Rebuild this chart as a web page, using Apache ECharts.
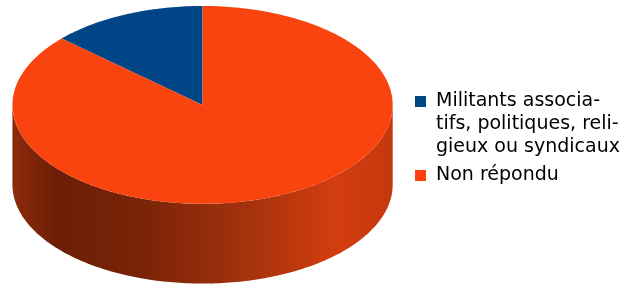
<!DOCTYPE html>
<html><head><meta charset="utf-8">
<script src="https://cdn.jsdelivr.net/npm/echarts@6/dist/echarts.min.js"></script>
<style>html,body{margin:0;padding:0;background:#fff}#c{width:638px;height:285px}</style>
</head><body><div id="c"></div>
<script>
const categories = ['Militants associatifs, politiques, religieux ou syndicaux', 'Non répondu'];
const legendLabels = ['Militants associa-\ntifs, politiques, reli-\ngieux ou syndicaux', 'Non répondu'];
const values = [13.3, 86.7];
const legendColors = ['#004586', '#ff420e'];
const topColors = ['#004586', '#f9440f'];

// layout of the 3D pie (fractions of the chart size)
const PIE = { cx: 0.3175, cy: 0.368, rx: 0.298, ry: 0.347, depth: 0.28 };

const total = values.reduce((a, b) => a + b, 0);
function sliceAngles(i) {
  let before = 0;
  for (let k = 0; k < i; k++) before += values[k];
  const a0 = 90 + 360 * before / total;
  const a1 = 90 + 360 * (before + values[i]) / total;
  return [a0, a1];
}
function pt(g, a, dy) {
  const r = a * Math.PI / 180;
  return [g.cx + g.rx * Math.cos(r), g.cy - g.ry * Math.sin(r) + (dy || 0)];
}
function arcPts(g, a0, a1, dy) {
  const pts = [];
  const n = Math.max(2, Math.ceil(Math.abs(a1 - a0) / 1));
  for (let k = 0; k <= n; k++) pts.push(pt(g, a0 + (a1 - a0) * k / n, dy));
  return pts;
}
function makeRender(i) {
  return function (params, api) {
    const W = api.getWidth(), H = api.getHeight();
    const g = { cx: PIE.cx * W, cy: PIE.cy * H, rx: PIE.rx * W, ry: PIE.ry * H, d: PIE.depth * H };
    const [a0, a1] = sliceAngles(i);
    const children = [];
    // front walls
    for (let k = 0; k < 2; k++) {
      const lo = Math.max(a0, 180 + 360 * k), hi = Math.min(a1, 360 + 360 * k);
      if (hi > lo) {
        const pts = arcPts(g, lo, hi, 0).concat(arcPts(g, hi, lo, g.d));
        children.push({
          type: 'polygon', z2: 1,
          shape: { points: pts },
          style: {
            fill: {
              type: 'linear', x: 0, y: 0, x2: 1, y2: 0,
              colorStops: i === 0 ? [
                { offset: 0, color: '#002a52' }, { offset: 1, color: '#003a72' }
              ] : [
                { offset: 0, color: '#8e2a0b' },
                { offset: 0.12, color: '#6c1e06' },
                { offset: 0.35, color: '#7a2407' },
                { offset: 0.6, color: '#a2310c' },
                { offset: 0.85, color: '#d23d0f' },
                { offset: 1, color: '#c5380d' }
              ]
            }
          }
        });
      }
    }
    // top face
    const top = [[g.cx, g.cy]].concat(arcPts(g, a0, a1, 0));
    children.push({
      type: 'polygon', z2: 10,
      shape: { points: top },
      style: { fill: topColors[i] }
    });
    return { type: 'group', children: children };
  };
}

const chart = echarts.init(document.getElementById('c'), null, { renderer: 'canvas' });
chart.setOption({
  animation: false,
  backgroundColor: '#fff',
  legend: {
    orient: 'vertical', left: 415, top: 44, padding: 0,
    itemWidth: 11, itemHeight: 11, itemGap: 5, icon: 'rect',
    textStyle: { fontFamily: 'DejaVu Sans', fontSize: 19, lineHeight: 23, color: '#000', padding: [0, 0, 0, 5] },
    data: categories,
    formatter: function (name) {
      const lbl = legendLabels[categories.indexOf(name)];
      const n = lbl.split('\n').length;
      // pad with empty lines above so the first line sits beside the marker
      return '\n'.repeat(n - 1) + lbl;
    },
    selectedMode: false
  },
  series: categories.map((name, i) => ({
    type: 'custom', name: name, coordinateSystem: 'none',
    itemStyle: { color: legendColors[i] },
    data: [values[i]],
    renderItem: makeRender(i)
  }))
});
</script></body></html>
